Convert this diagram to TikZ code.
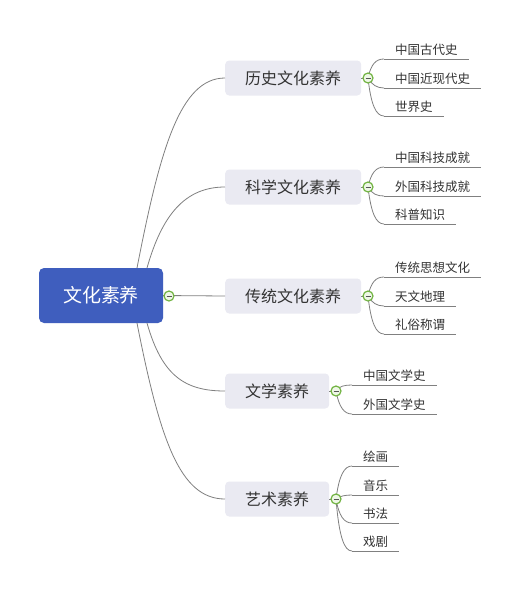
\documentclass[tikz,border=0pt]{standalone}
\usepackage{fontspec}
\setmainfont{Noto Sans CJK SC}
\definecolor{rootblue}{HTML}{3F5EBE}
\definecolor{branchfill}{HTML}{EAEAF2}
\definecolor{linegray}{HTML}{808080}
\definecolor{textgray}{HTML}{333333}
\definecolor{togglegreen}{HTML}{72B443}
\definecolor{togglefill}{HTML}{EEF7E6}
\definecolor{minusgray}{HTML}{555555}
\begin{document}
\begin{tikzpicture}[x=1pt,y=-1pt,
  conn/.style={draw=linegray, line width=0.8pt},
  rootbox/.style={fill=rootblue, rounded corners=5pt, minimum width=124pt, minimum height=55pt, text=white, font=\fontsize{19}{19}\selectfont, inner sep=0pt},
  branchbox/.style={fill=branchfill, rounded corners=4pt, minimum height=35pt, text=textgray, font=\fontsize{16}{16}\selectfont, inner sep=0pt, anchor=west},
  leaf/.style={anchor=south west, inner xsep=11pt, inner ysep=1.5pt, text height=9pt, text depth=3pt, text=textgray, font=\fontsize{12.5}{13}\selectfont},
  toggle/.style={circle, draw=togglegreen, fill=togglefill, line width=1.2pt, minimum size=10pt, inner sep=0pt,
    path picture={\draw[line width=1pt, draw=minusgray] ([xshift=-2.5pt]path picture bounding box.center) -- ([xshift=2.5pt]path picture bounding box.center);}}
]
\fill[white] (0,0) rectangle (523,592);
\useasboundingbox (0,0) rectangle (523,592);

% root and branches
\node[rootbox] (root) at (101,295.5) {文化素养};
\node[branchbox, minimum width=136pt] (b1) at (225,78) {历史文化素养};
\node[branchbox, minimum width=136pt] (b2) at (225,187) {科学文化素养};
\node[branchbox, minimum width=136pt] (b3) at (225,296) {传统文化素养};
\node[branchbox, minimum width=104pt] (b4) at (225,391) {文学素养};
\node[branchbox, minimum width=104pt] (b5) at (225,499) {艺术素养};

% toggle positions
\coordinate (t0) at (169,296);
\coordinate (t1) at (368,78);
\coordinate (t2) at (368,187);
\coordinate (t3) at (368,296);
\coordinate (t4) at (336,391);
\coordinate (t5) at (336,499);

% root connector start points
\coordinate (r1) at (137,268);
\coordinate (r2) at (147,268);
\coordinate (r4) at (147,323);
\coordinate (r5) at (137,323);

% leaves
\node[leaf] (l11) at (384,59) {中国古代史};
\node[leaf] (l12) at (384,88) {中国近现代史};
\node[leaf] (l13) at (384,116) {世界史};
\node[leaf] (l21) at (384,167) {中国科技成就};
\node[leaf] (l22) at (384,196) {外国科技成就};
\node[leaf] (l23) at (384,224) {科普知识};
\node[leaf] (l31) at (384,277) {传统思想文化};
\node[leaf] (l32) at (384,306) {天文地理};
\node[leaf] (l33) at (384,334) {礼俗称谓};
\node[leaf] (l41) at (352,385) {中国文学史};
\node[leaf] (l42) at (352,414) {外国文学史};
\node[leaf] (l51) at (352,466) {绘画};
\node[leaf] (l52) at (352,495) {音乐};
\node[leaf] (l53) at (352,523) {书法};
\node[leaf] (l54) at (352,551) {戏剧};

% underlines
\foreach \l in {l11,l12,l13,l21,l22,l23,l31,l32,l33,l41,l42,l51,l52,l53,l54}
  \draw[conn] (\l.south west) -- (\l.south east);

% root to branches
\draw[conn] (r1) .. controls (160,150) and (180,78) .. (b1.west);
\draw[conn] (r2) .. controls (162,215) and (185,187) .. (b2.west);
\draw[conn] (root.east) -- (b3.west);
\draw[conn] (r4) .. controls (162,376) and (185,391) .. (b4.west);
\draw[conn] (r5) .. controls (160,440) and (180,499) .. (b5.west);

% branch to toggles
\foreach \b/\t in {b1/t1,b2/t2,b3/t3,b4/t4,b5/t5}
  \draw[conn] (\b.east) -- (\t);

% toggles to leaves
\draw[conn] (t1) .. controls +(3,-14) and +(-8,0) .. (l11.south west);
\draw[conn] (t1) .. controls +(4,7) and +(-7,0) .. (l12.south west);
\draw[conn] (t1) .. controls +(3,27) and +(-8,0) .. (l13.south west);
\draw[conn] (t2) .. controls +(3,-14) and +(-8,0) .. (l21.south west);
\draw[conn] (t2) .. controls +(4,7) and +(-7,0) .. (l22.south west);
\draw[conn] (t2) .. controls +(3,26) and +(-8,0) .. (l23.south west);
\draw[conn] (t3) .. controls +(3,-14) and +(-8,0) .. (l31.south west);
\draw[conn] (t3) .. controls +(4,7) and +(-7,0) .. (l32.south west);
\draw[conn] (t3) .. controls +(3,27) and +(-8,0) .. (l33.south west);
\draw[conn] (t4) .. controls +(3,-5) and +(-7,0) .. (l41.south west);
\draw[conn] (t4) .. controls +(3,16) and +(-8,0) .. (l42.south west);
\draw[conn] (t5) .. controls +(3,-23) and +(-8,0) .. (l51.south west);
\draw[conn] (t5) .. controls +(4,-3) and +(-7,0) .. (l52.south west);
\draw[conn] (t5) .. controls +(3,17) and +(-8,0) .. (l53.south west);
\draw[conn] (t5) .. controls +(3,37) and +(-8,0) .. (l54.south west);

% toggle icons
\foreach \t in {t0,t1,t2,t3,t4,t5}
  \node[toggle] at (\t) {};
\end{tikzpicture}
\end{document}
